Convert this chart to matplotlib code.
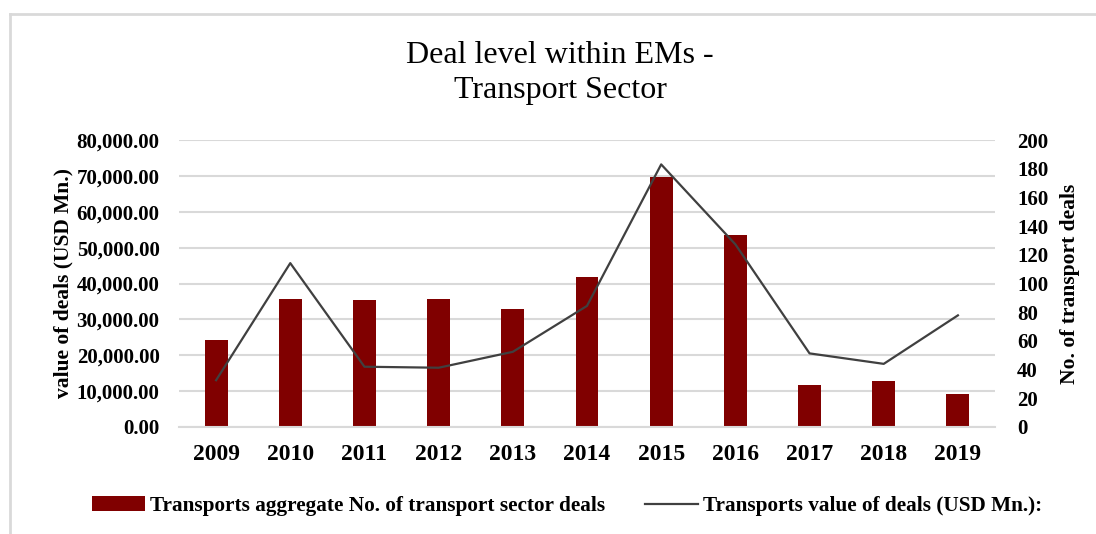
import matplotlib
matplotlib.use("Agg")
import matplotlib.pyplot as plt
from matplotlib.lines import Line2D
from matplotlib.ticker import FuncFormatter, MultipleLocator

years = ["2009", "2010", "2011", "2012", "2013", "2014",
         "2015", "2016", "2017", "2018", "2019"]
deal_count_bars = [24250, 35800, 35450, 35800, 33000, 41950,
                   69550, 53500, 11750, 12950, 9300]
deal_value_line = [32.6, 114.2, 42.0, 41.3, 52.4, 84.4,
                   183.0, 127.3, 51.3, 44.0, 77.8]

title = "Deal level within EMs -\nTransport Sector"
left_label = "value of deals (USD Mn.)"
right_label = "No. of transport deals"
bar_name = "Transports aggregate No. of transport sector deals"
line_name = "Transports value of deals (USD Mn.):"

plt.rcParams["font.family"] = ["Liberation Serif", "DejaVu Serif"]

W, H = 1096, 534
fig = plt.figure(figsize=(W / 100, H / 100), dpi=100)
fig.patch.set_facecolor("white")

ax = fig.add_axes([179 / W, 1 - 427 / H, 816 / W, 287 / H])
x = list(range(len(years)))

grid_c = "#d9d9d9"
bar_c = "#800000"
line_c = "#404040"

bars = ax.bar(x, deal_count_bars, width=0.31, color=bar_c, zorder=2)
ax.set_ylim(0, 80000)
ax.set_xlim(-0.5, len(years) - 0.5)
ax.yaxis.set_major_locator(MultipleLocator(10000))
ax.yaxis.set_major_formatter(FuncFormatter(lambda v, p: f"{v:,.2f}"))
ax.grid(axis="y", color=grid_c, linewidth=1.5, zorder=0)
ax.set_axisbelow(True)
for s in ["top", "right", "left"]:
    ax.spines[s].set_visible(False)
ax.spines["bottom"].set_color(grid_c)
ax.spines["bottom"].set_linewidth(1.5)
ax.set_xticks(x)
ax.set_xticklabels(years, fontsize=17, fontweight="bold")
ax.tick_params(axis="x", length=0, pad=12)
ax.tick_params(axis="y", length=0, pad=14, labelsize=15)
for t in ax.get_yticklabels():
    t.set_fontweight("bold")
ax.set_ylabel(left_label, fontsize=15.5, fontweight="bold", labelpad=2)

ax2 = ax.twinx()
line, = ax2.plot(x, deal_value_line, color=line_c, linewidth=1.6, zorder=3)
ax2.set_ylim(0, 200)
ax2.yaxis.set_major_locator(MultipleLocator(20))
for s in ["top", "right", "left", "bottom"]:
    ax2.spines[s].set_visible(False)
ax2.tick_params(axis="y", length=0, pad=16, labelsize=15)
for t in ax2.get_yticklabels():
    t.set_fontweight("bold")
ax2.set_ylabel(right_label, fontsize=15.5, fontweight="bold", labelpad=8)

fig.text(560 / W, 1 - 73 / H, title, ha="center", va="center",
         fontsize=23, linespacing=1.25)

fig.legend([bars, line], [bar_name, line_name], loc="center",
           bbox_to_anchor=(567 / W, 1 - 506 / H), ncol=2, frameon=False,
           prop={"weight": "bold", "size": 15.3}, handlelength=2.5,
           handletextpad=0.2, columnspacing=1.9)

# thin frame around the chart area
fig.add_artist(Line2D([9.5 / W, 9.5 / W], [0, 1 - 13.5 / H],
                      color=grid_c, linewidth=2))
fig.add_artist(Line2D([9.5 / W, 1], [1 - 13.5 / H, 1 - 13.5 / H],
                      color=grid_c, linewidth=2))

fig.savefig("out.png", dpi=100)
